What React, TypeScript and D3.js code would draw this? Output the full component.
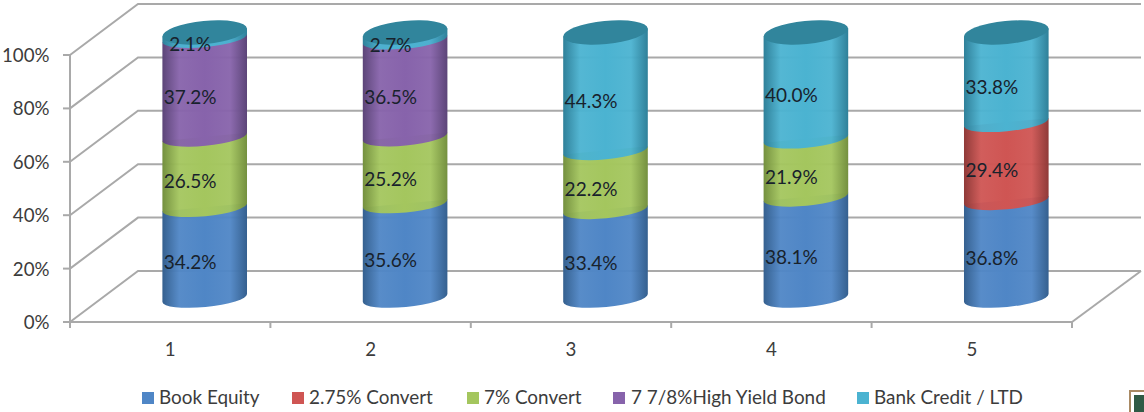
import React from "react";
import * as d3 from "d3";

// Capital structure share by scenario, percent of total
const categories = ["1", "2", "3", "4", "5"];
const seriesNames = ["Book Equity", "2.75% Convert", "7% Convert", "7 7/8%High Yield Bond", "Bank Credit / LTD"];
const bookEquity = [34.2, 35.6, 33.4, 38.1, 36.8];
const convert275 = [0, 0, 0, 0, 29.4];
const convert7 = [26.5, 25.2, 22.2, 21.9, 0];
const highYield = [37.2, 36.5, 0, 0, 0];
const bankCredit = [2.1, 2.7, 44.3, 40.0, 33.8];
const seriesValues = [bookEquity, convert275, convert7, highYield, bankCredit];
const yTicks = [0, 20, 40, 60, 80, 100];

const edgeColors = ["#35608f", "#8f3a38", "#74903f", "#5c4578", "#2f8099"];
const midColors = ["#4f86c6", "#cf5553", "#a4c65e", "#8763ab", "#4bb3d1"];
const capColor = "#31859c";
const gridColor = "#a9a9a9";
const textColor = "#3c3c3c";
const labelColor = "#18222c";
const font = "Lato, 'Open Sans', sans-serif";

const W = 1144;
const H = 412;

// 3D frame: front plane plus the offset of the back wall
const frontLeft = 70;
const frontRight = 1072;
const depthX = 68;
const depthY = 51;
const y = d3.scaleLinear().domain([0, 100]).range([322, 55]);
const x = d3.scaleBand<string>().domain(categories).range([frontLeft, frontRight]);

// Cylinders stand midway into the floor
const barShiftX = 34.5;
const barRx = 42.5;
const sideRy = 9;
const capRy = 11.5;
const tiltDeg = -5.5;
const tilt = (tiltDeg * Math.PI) / 180;
const dx = barRx * Math.cos(tilt);
const dy = barRx * Math.sin(tilt);
const barY = d3.scaleLinear().domain([0, 100]).range([298, 32.5]);

const stacked = d3
  .stack<number>()
  .keys(d3.range(seriesNames.length) as unknown as string[])
  .value((i, k) => seriesValues[+k][i])(d3.range(categories.length));

function segmentPath(cx: number, v0: number, v1: number) {
  const y0 = barY(v0);
  const y1 = barY(v1);
  return (
    `M${cx - dx},${y0 - dy}` +
    `A${barRx},${sideRy} ${tiltDeg} 0 0 ${cx + dx},${y0 + dy}` +
    `L${cx + dx},${y1 + dy}L${cx - dx},${y1 - dy}Z`
  );
}

const legendItems = [
  { x: 142, textX: 159 },
  { x: 292, textX: 309 },
  { x: 467, textX: 484 },
  { x: 613, textX: 631 },
  { x: 857, textX: 874 },
];

export default function App() {
  const backX = (v: number) => v + depthX;
  return (
    <svg
      width={W}
      height={H}
      style={{ position: "absolute", left: 0, top: 0, background: "#fff" }}
      fontFamily={font}
    >
      <defs>
        {seriesNames.map((_, i) => (
          <linearGradient key={i} id={`cyl${i}`} x1="0" x2="1" y1="0" y2="0">
            <stop offset="0" stopColor={edgeColors[i]} />
            <stop offset="0.2" stopColor={midColors[i]} stopOpacity={0.95} />
            <stop offset="0.5" stopColor={midColors[i]} />
            <stop offset="0.8" stopColor={midColors[i]} stopOpacity={0.95} />
            <stop offset="1" stopColor={edgeColors[i]} />
          </linearGradient>
        ))}
      </defs>

      {/* walls and floor */}
      <g fill="none" stroke={gridColor} strokeWidth={2}>
        {yTicks.map((t) => (
          <path
            key={t}
            d={`M${frontLeft},${y(t)}L${backX(frontLeft)},${y(t) - depthY}L${backX(frontRight) + 1},${y(t) - depthY}`}
          />
        ))}
        <line x1={frontLeft} x2={frontLeft} y1={y(0)} y2={y(100)} />
        <line x1={frontLeft} x2={frontRight} y1={y(0)} y2={y(0)} />
        <line x1={frontRight} x2={backX(frontRight) + 1} y1={y(0)} y2={y(0) - depthY} />
        {yTicks.map((t) => (
          <line key={t} x1={frontLeft - 7} x2={frontLeft} y1={y(t)} y2={y(t)} />
        ))}
        {[...categories.map((c) => x(c)!), frontRight].map((px) => (
          <line key={px} x1={px} x2={px} y1={y(0)} y2={y(0) + 6} />
        ))}
      </g>

      {/* axis labels */}
      <g fill={textColor} fontSize={18.7}>
        {yTicks.map((t) => (
          <text key={t} x={49.5} y={y(t) + 0.5} dy="0.35em" textAnchor="end">
            {t}%
          </text>
        ))}
        {categories.map((c) => (
          <text key={c} x={x(c)! + x.bandwidth() / 2} y={349} dy="0.35em" textAnchor="middle">
            {c}
          </text>
        ))}
      </g>

      {/* cylinders */}
      {categories.map((c, i) => {
        const cx = x(c)! + x.bandwidth() / 2 + barShiftX;
        const topY = barY(100);
        return (
          <g key={c}>
            {stacked.map((s, k) =>
              seriesValues[k][i] > 0 ? (
                <path key={k} d={segmentPath(cx, s[i][0], s[i][1])} fill={`url(#cyl${k})`} />
              ) : null
            )}
            <ellipse
              cx={cx}
              cy={topY}
              rx={barRx}
              ry={capRy}
              transform={`rotate(${tiltDeg} ${cx} ${topY})`}
              fill={capColor}
            />
          </g>
        );
      })}

      {/* value labels */}
      <g fill={labelColor} fontSize={19}>
        {categories.map((c, i) => {
          const cx = x(c)! + x.bandwidth() / 2 + barShiftX;
          return stacked.map((s, k) =>
            seriesValues[k][i] > 0 ? (
              <text
                key={`${c}-${k}`}
                x={cx - 14.5}
                y={barY((s[i][0] + s[i][1]) / 2) + 9.5}
                dy="0.35em"
                textAnchor="middle"
              >
                {seriesValues[k][i].toFixed(1)}%
              </text>
            ) : null
          );
        })}
      </g>

      {/* legend */}
      <g fontSize={18.9} fill={textColor}>
        {seriesNames.map((name, i) => (
          <g key={name}>
            <rect x={legendItems[i].x} y={392} width={12} height={12} fill={midColors[i]} />
            <text x={legendItems[i].textX} y={397.5} dy="0.35em">
              {name}
            </text>
          </g>
        ))}
      </g>

      {/* framed badge in the lower right corner */}
      <rect x={1130} y={391} width={20} height={30} fill="#fff" stroke="#a98a64" strokeWidth={2} />
      <rect x={1134} y={395} width={12} height={20} fill="#2f5a45" />
    </svg>
  );
}
